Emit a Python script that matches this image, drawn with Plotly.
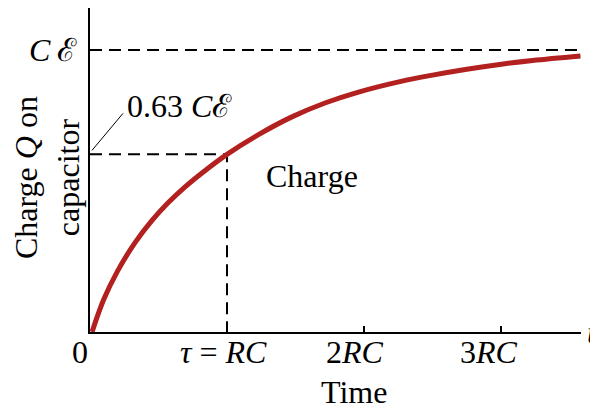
import plotly.graph_objects as go

# ---- data ----
time_rc = [0.015, 0.10, 0.20, 0.33, 0.45, 0.57, 0.69, 0.82, 1.00, 1.23, 1.47,
           1.72, 1.96, 2.27, 2.50, 2.75, 2.99, 3.23, 3.58]
charge_frac = [0.0, 0.115, 0.215, 0.318, 0.394, 0.458, 0.513, 0.565, 0.63, 0.70,
               0.762, 0.813, 0.851, 0.889, 0.911, 0.932, 0.949, 0.963, 0.979]

tau = 1.0
q_tau = 0.63
q_max = 1.0
t_end = 3.584
y_top = 1.149

x_tick_vals = [0, 1, 2, 3]
x_tick_text = ["0", "<i>τ</i> = <i>RC</i>", "2<i>RC</i>", "3<i>RC</i>"]
x_tick_shift = [-10, -4, -9, -12]

FONT = "Liberation Serif, Times New Roman, DejaVu Serif, serif"
FS = 32
RED = "#B2201F"
DASH = "12px,7px"

fig = go.Figure()

# dashed guide lines
fig.add_trace(go.Scatter(x=[0, t_end], y=[q_max, q_max], mode="lines",
                         line=dict(color="black", width=2, dash=DASH),
                         hoverinfo="skip"))
fig.add_trace(go.Scatter(x=[0, tau, tau], y=[q_tau, q_tau, 0], mode="lines",
                         line=dict(color="black", width=2, dash=DASH),
                         hoverinfo="skip"))

# charging curve
fig.add_trace(go.Scatter(x=time_rc, y=charge_frac, mode="lines",
                         line=dict(color=RED, width=5, shape="spline", smoothing=1.0),
                         hoverinfo="skip"))

annotations = []
for v, txt, sh in zip(x_tick_vals, x_tick_text, x_tick_shift):
    annotations.append(dict(x=v, y=0, xref="x", yref="y", text=txt,
                            showarrow=False, xanchor="center", yanchor="top",
                            xshift=sh, yshift=0,
                            font=dict(family=FONT, size=FS, color="black")))

annotations += [
    dict(x=1.93, y=0, xref="x", yref="y", text="Time", showarrow=False,
         xanchor="center", yanchor="top", xshift=0, yshift=-40,
         font=dict(family=FONT, size=FS, color="black")),
    dict(x=1, y=0, xref="paper", yref="y", text="<i>t</i>", showarrow=False,
         xanchor="left", yanchor="middle", xshift=4, yshift=0,
         font=dict(family=FONT, size=FS, color="black")),
    dict(x=0, y=q_max, xref="paper", yref="y", text="<i>C</i>\u2009ℰ", showarrow=False,
         xanchor="right", yanchor="middle", xshift=-11, yshift=0,
         font=dict(family=FONT, size=FS, color="black")),
    dict(x=0, y=q_tau, xref="paper", yref="y", text="0.63 <i>C</i>ℰ", showarrow=False,
         xanchor="left", yanchor="middle", xshift=35, yshift=48,
         font=dict(family=FONT, size=FS, color="black")),
    dict(x=1.65, y=q_tau, xref="x", yref="y", text="Charge", showarrow=False,
         xanchor="center", yanchor="middle", xshift=-4, yshift=-22,
         font=dict(family=FONT, size=FS, color="black")),
    dict(x=0, y=0.5, xref="paper", yref="paper",
         text="Charge <i>Q</i> on<br>capacitor", showarrow=False,
         textangle=-90, xanchor="center", yanchor="middle", xshift=-43, yshift=-8,
         font=dict(family=FONT, size=FS, color="black")),
]

shapes = [
    dict(type="line", xref="x", yref="y", xsizemode="pixel", ysizemode="pixel",
         xanchor=0, yanchor=q_tau, x0=2, x1=33, y0=4, y1=41,
         line=dict(color="black", width=1)),
]

# the page body has an 8px default margin, so the figure is 8px smaller
fig.update_layout(
    width=590, height=402,
    margin=dict(l=82, r=17, t=0, b=78),
    paper_bgcolor="white", plot_bgcolor="white",
    showlegend=False,
    annotations=annotations,
    shapes=shapes,
    xaxis=dict(range=[0, t_end], showgrid=False, zeroline=False,
               showline=True, linecolor="black", linewidth=2,
               tickvals=[2, 3], ticks="inside", ticklen=6, tickwidth=2,
               tickcolor="black", showticklabels=False, fixedrange=True),
    yaxis=dict(range=[0, y_top], showgrid=False, zeroline=False,
               showline=True, linecolor="black", linewidth=2,
               ticks="", showticklabels=False, fixedrange=True),
)

fig.write_html("out.html", config={"displayModeBar": False})
